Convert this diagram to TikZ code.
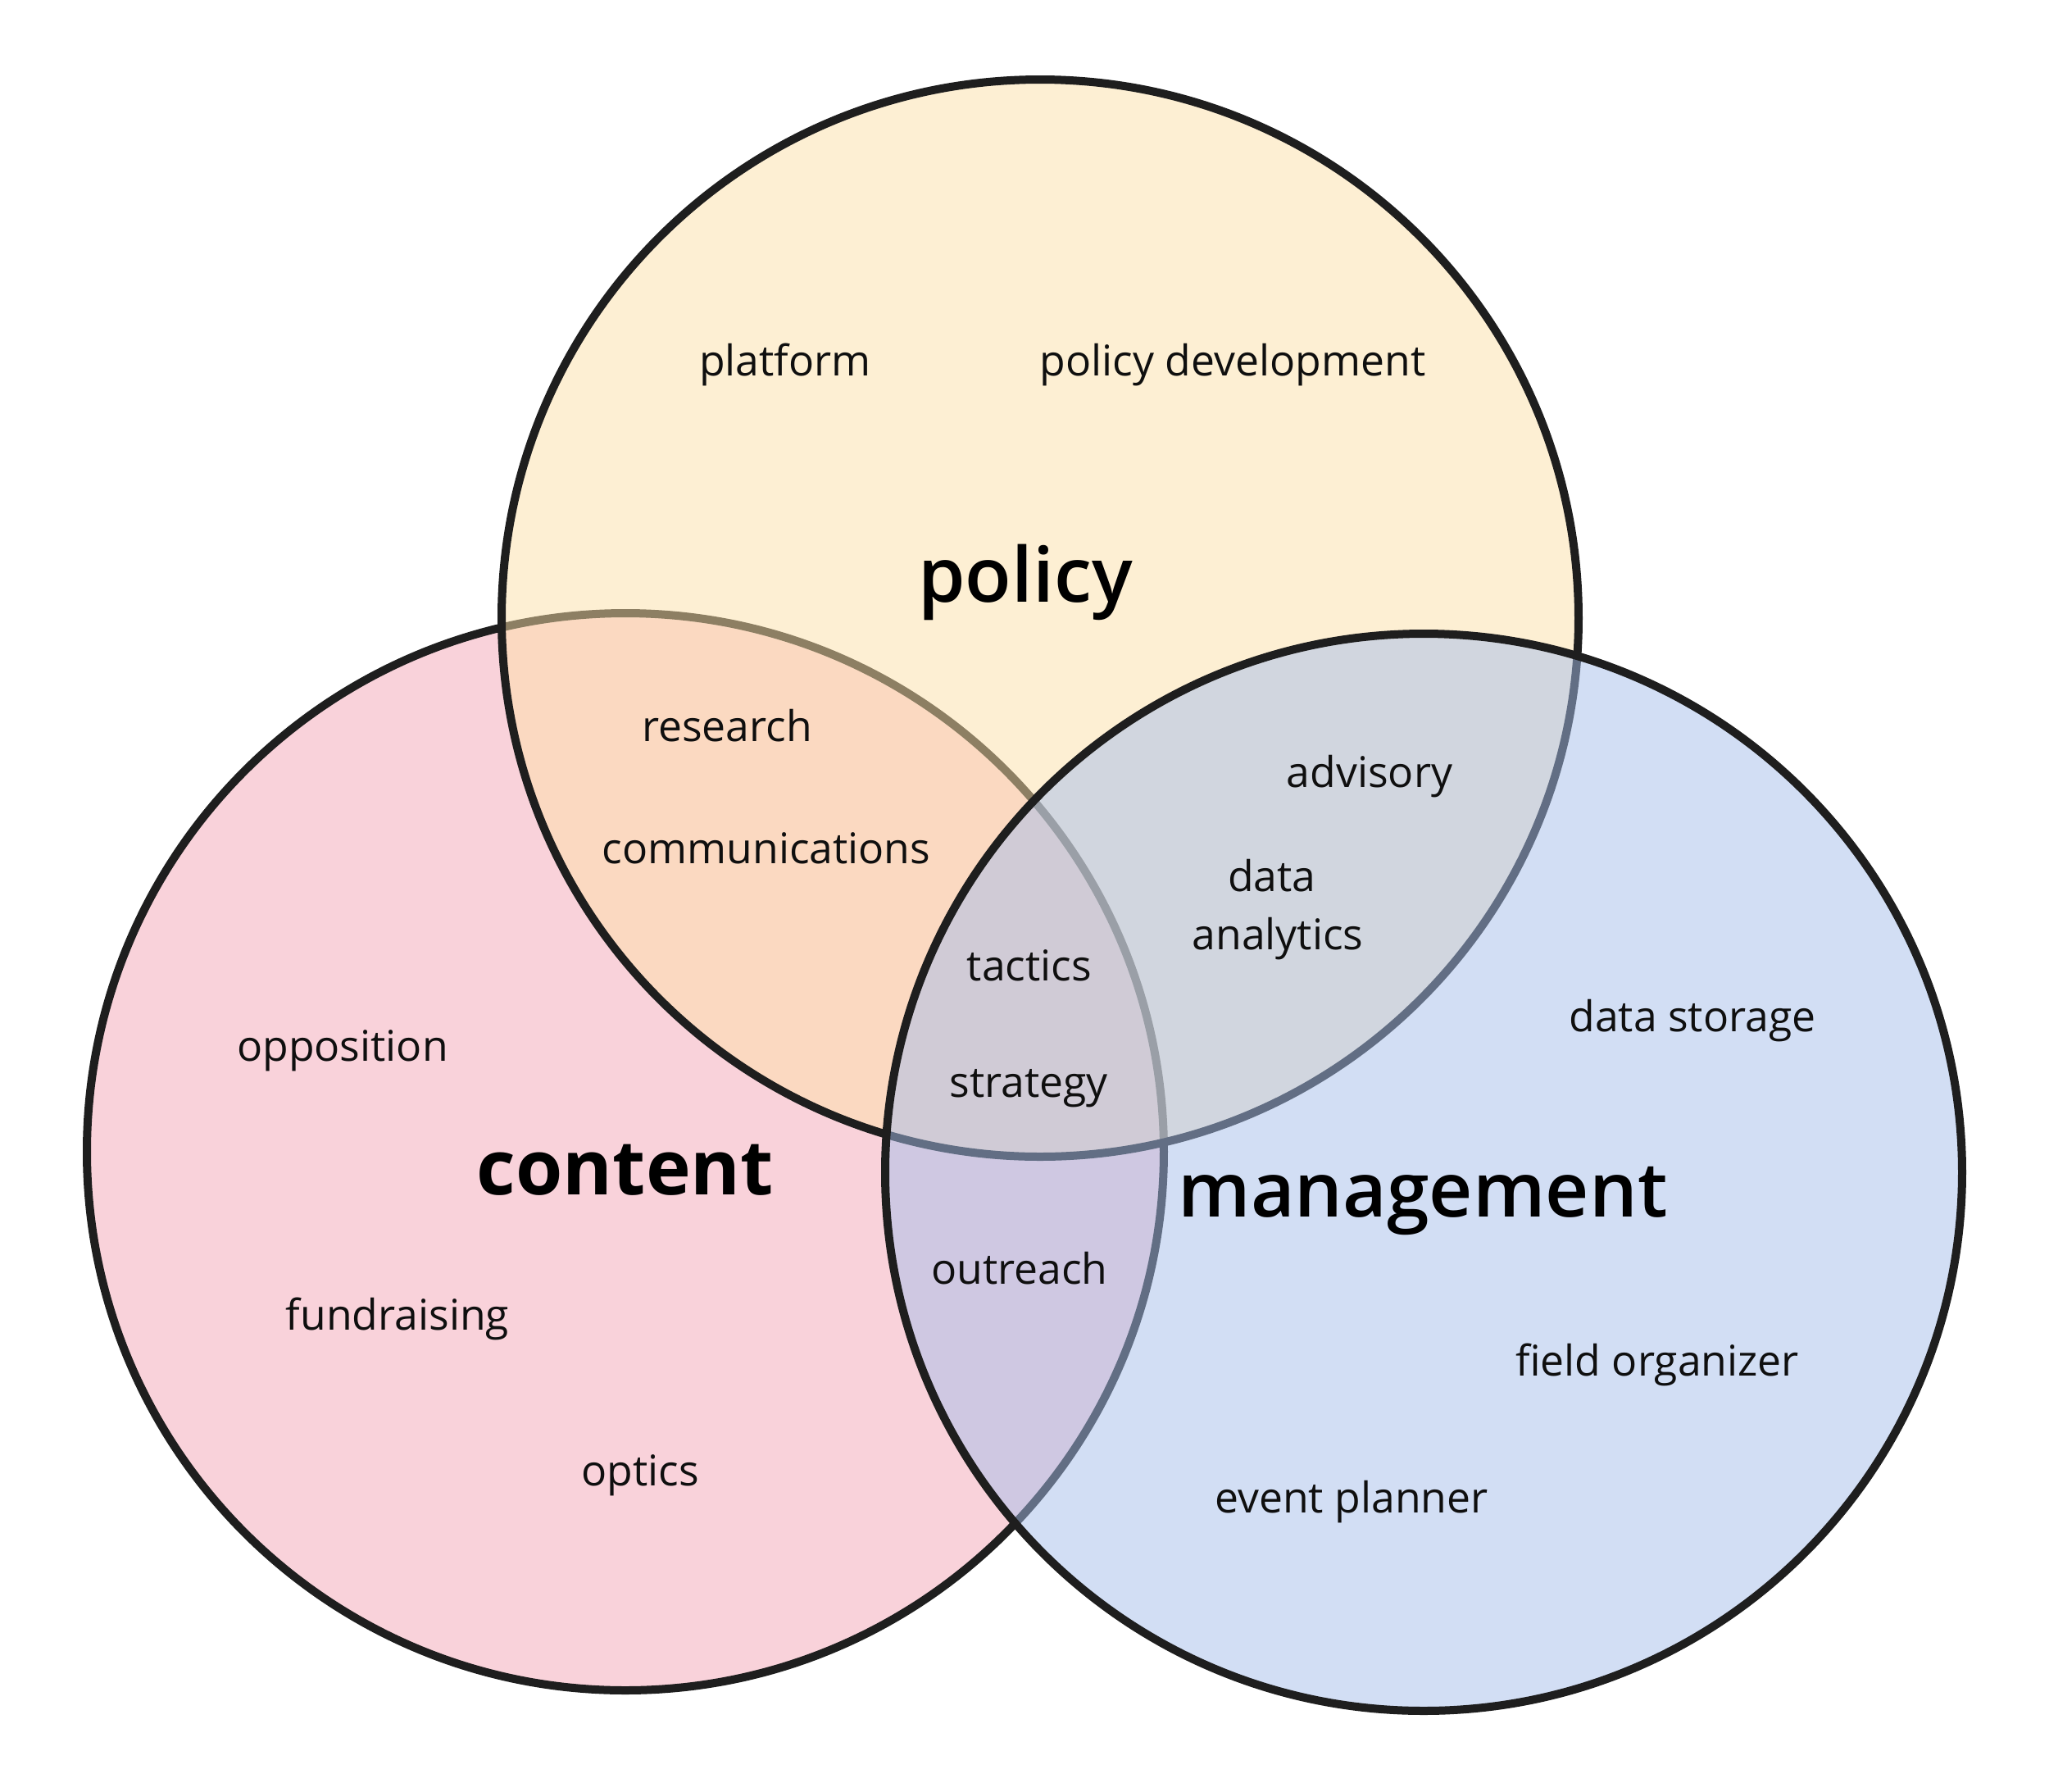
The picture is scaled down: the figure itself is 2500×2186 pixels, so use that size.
\documentclass[tikz,border=0pt]{standalone}
\usepackage{fontspec}
\setmainfont{Open Sans}
\newfontface\sbfont{Open Sans Semibold}
\definecolor{contentfill}{RGB}{245,167,182}
\definecolor{policyfill}{RGB}{253,225,169}
\definecolor{mgmtfill}{RGB}{167,191,235}
\definecolor{ringcol}{RGB}{30,30,30}
\definecolor{txt}{RGB}{15,15,15}
\tikzset{
  ring/.style={draw=ringcol, line width=3pt, fill opacity=0.5},
  lbl/.style={font=\fontsize{15.5}{18}\selectfont, text=txt, inner sep=0pt, anchor=base},
  titleb/.style={font=\fontsize{27.8}{32}\bfseries\selectfont, text=black, inner sep=0pt},
  titlesb/.style={font=\fontsize{27.8}{32}\sbfont\selectfont, text=black, inner sep=0pt}
}
\begin{document}
\begin{tikzpicture}[x=0.3pt,y=-0.3pt]
\useasboundingbox (0,0) rectangle (2500,2186);
\fill[white] (0,0) rectangle (2500,2186);
\coordinate (cC) at (763,1405);
\coordinate (cP) at (1269,754);
\coordinate (cM) at (1737,1430);
\draw[ring, fill=contentfill] (cC) circle[radius=197.1pt];
\draw[ring, fill=policyfill] (cP) circle[radius=197.1pt];
\draw[ring, fill=mgmtfill] (cM) circle[radius=197.1pt];

\node[titlesb] (policy) at (1251,710) {policy};
\node[titleb] (content) at (763,1427) {content};
\node[titlesb] (management) at (1736,1465) {management};

\node[lbl] (platform) at (958,458) {platform};
\node[lbl] (policydev) at (1504,458) {policy development};
\node[lbl] (research) at (887,904) {research};
\node[lbl] (comms) at (935,1053) {communications};
\node[lbl] (advisory) at (1671,960) {advisory};
\node[lbl] (data) at (1552,1087) {data};
\node[lbl] (analytics) at (1559,1158) {analytics};
\node[lbl] (tactics) at (1256,1196) {tactics};
\node[lbl] (strategy) at (1255,1338) {strategy};
\node[lbl] (opposition) at (418,1294) {opposition};
\node[lbl] (datastorage) at (2065,1258) {data storage};
\node[lbl] (outreach) at (1244,1566) {outreach};
\node[lbl] (fundraising) at (485,1622) {fundraising};
\node[lbl] (fieldorg) at (2022,1678) {field organizer};
\node[lbl] (optics) at (781,1812) {optics};
\node[lbl] (eventplanner) at (1649,1845) {event planner};
\end{tikzpicture}
\end{document}
